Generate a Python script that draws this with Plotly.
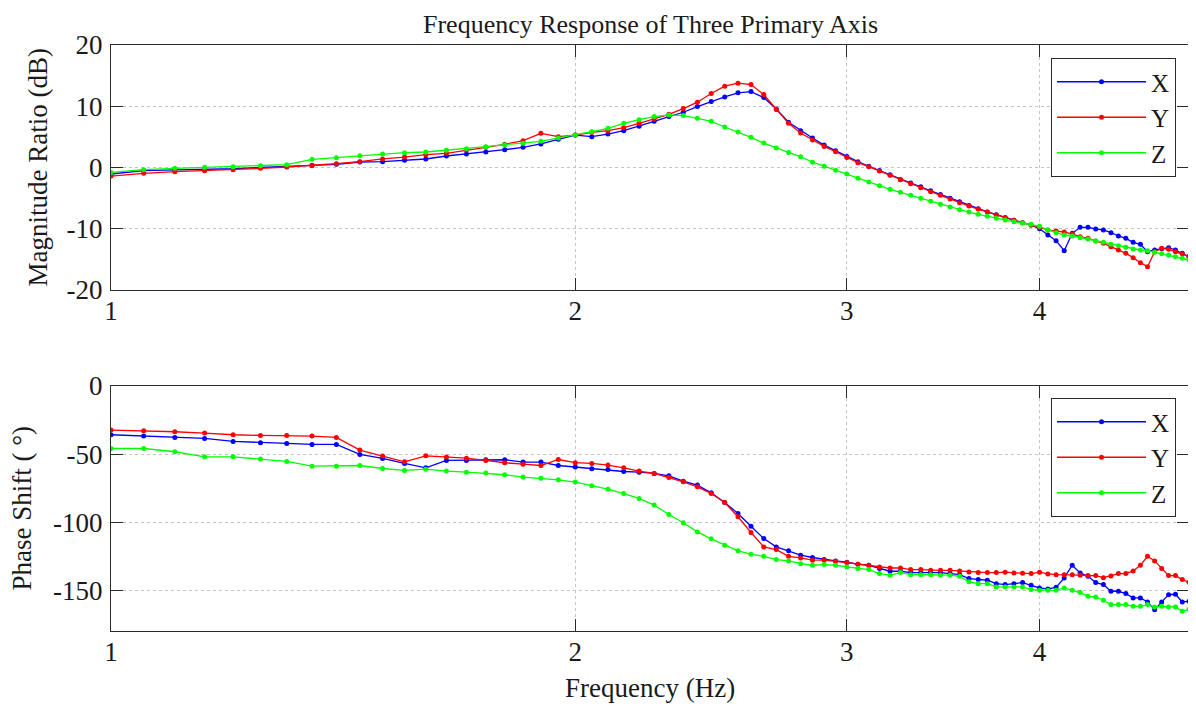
import plotly.graph_objects as go

freq = [1.00, 1.05, 1.10, 1.15, 1.20, 1.25, 1.30, 1.35, 1.40, 1.45,
        1.50, 1.55, 1.60, 1.65, 1.70, 1.75, 1.80, 1.85, 1.90, 1.95,
        2.00, 2.05, 2.10, 2.15, 2.20, 2.25, 2.30, 2.35, 2.40, 2.45,
        2.50, 2.55, 2.60, 2.65, 2.70, 2.75, 2.80, 2.85, 2.90, 2.95,
        3.00, 3.05, 3.10, 3.15, 3.20, 3.25, 3.30, 3.35, 3.40, 3.45,
        3.50, 3.55, 3.60, 3.65, 3.70, 3.75, 3.80, 3.85, 3.90, 3.95,
        4.00, 4.05, 4.10, 4.15, 4.20, 4.25, 4.30, 4.35, 4.40, 4.45,
        4.50, 4.55, 4.60, 4.65, 4.70, 4.75, 4.80, 4.85, 4.90, 4.95,
        5.00]

mag_x = [-1.06, -0.5, -0.4, -0.35, -0.2, 0.0, 0.13, 0.35, 0.52, 0.9,
         0.95, 1.17, 1.39, 1.88, 2.2, 2.53, 2.91, 3.29, 3.84, 4.6,
         5.3, 5.03, 5.46, 6.01, 6.72, 7.54, 8.31, 9.02, 9.95, 10.77,
         11.53, 12.19, 12.40, 11.42, 9.56, 7.38, 6.01, 4.81, 3.66, 2.73,
         1.8, 0.95, 0.2, -0.5, -1.2, -1.95, -2.55, -3.15, -3.8, -4.4,
         -5.0, -5.6, -6.2, -6.75, -7.25, -7.7, -8.15, -8.6, -9.0, -9.4,
         -10.0, -11.02, -11.95, -13.58, -10.75, -9.77, -9.77, -10.04, -10.2, -10.64,
         -11.18, -11.57, -12.22, -12.55, -13.74, -13.47, -13.25, -13.09, -13.47, -14.01,
         -14.56]

mag_y = [-1.4, -0.95, -0.68, -0.52, -0.35, -0.14, 0.08, 0.3, 0.63, 0.95,
         1.4, 1.71, 2.1, 2.31, 2.86, 3.3, 3.78, 4.38, 5.58, 5.03,
         5.3, 5.74, 6.01, 6.5, 7.21, 7.92, 8.69, 9.62, 10.66, 12.08,
         13.28, 13.77, 13.55, 11.91, 9.45, 7.21, 5.63, 4.48, 3.44, 2.57,
         1.64, 0.79, 0.14, -0.57, -1.28, -1.99, -2.64, -3.29, -3.95, -4.54,
         -5.14, -5.74, -6.29, -6.78, -7.27, -7.75, -8.19, -8.63, -9.01, -9.39,
         -9.8, -10.2, -10.37, -10.53, -10.86, -11.29, -11.57, -12.0, -12.38, -12.93,
         -13.47, -14.01, -14.72, -15.54, -16.19, -13.74, -13.2, -13.36, -13.74, -14.12,
         -14.56]

mag_z = [-0.8, -0.35, -0.14, 0.03, 0.13, 0.3, 0.46, 1.33, 1.6, 1.93,
         2.2, 2.42, 2.53, 2.8, 3.07, 3.4, 3.73, 3.95, 4.27, 4.82,
         5.3, 5.85, 6.39, 7.21, 7.81, 8.31, 8.58, 8.47, 8.03, 7.54,
         6.61, 5.79, 4.92, 3.99, 3.17, 2.46, 1.75, 0.87, 0.22, -0.44,
         -1.08, -1.77, -2.37, -2.97, -3.56, -4.05, -4.54, -5.03, -5.52, -6.01,
         -6.45, -6.88, -7.27, -7.65, -7.97, -8.3, -8.57, -8.84, -9.06, -9.28,
         -9.6, -10.2, -10.64, -11.02, -11.18, -11.46, -11.67, -12.0, -12.22, -12.55,
         -12.76, -13.04, -13.31, -13.47, -13.58, -13.85, -14.07, -14.29, -14.56, -14.83,
         -15.1]

phase_x = [-35.8, -36.8, -37.8, -38.5, -40.7, -41.7, -42.2, -42.9, -42.9, -50.3,
           -53.2, -56.9, -60.1, -54.7, -54.7, -54.2, -54.2, -55.9, -55.9, -58.4,
           -59.5, -60.8, -61.3, -62.8, -63.3, -64.2, -66.0, -69.9, -72.8, -78.5,
           -85.6, -93.7, -103.0, -112.1, -118.2, -121.1, -124.3, -126.0, -127.5, -128.5,
           -129.5, -130.9, -131.7, -134.1, -136.1, -136.1, -137.1, -137.1, -137.1, -137.1,
           -137.8, -138.6, -141.5, -142.2, -142.7, -145.2, -145.9, -145.2, -144.4, -146.4,
           -148.4, -149.1, -147.9, -141.0, -131.7, -137.3, -139.8, -144.4, -145.9, -150.8,
           -150.8, -152.5, -155.7, -155.7, -158.7, -164.3, -158.7, -153.3, -153.0, -158.7,
           -158.2]

phase_y = [-32.4, -32.9, -33.6, -34.6, -35.8, -36.3, -36.3, -36.8, -37.8, -47.1,
           -51.5, -55.7, -51.3, -52.2, -53.0, -54.7, -56.4, -57.4, -58.4, -54.0,
           -56.3, -56.9, -58.1, -60.1, -62.5, -64.2, -67.2, -70.4, -74.1, -79.0,
           -85.6, -96.1, -107.6, -118.2, -120.2, -125.1, -126.3, -128.0, -128.0, -128.7,
           -129.7, -130.9, -131.9, -132.9, -133.7, -133.7, -134.9, -134.9, -135.4, -135.4,
           -135.4, -135.9, -136.6, -137.1, -137.1, -137.1, -136.8, -137.3, -137.6, -137.8,
           -136.8, -138.1, -138.6, -138.6, -138.6, -139.0, -139.3, -139.3, -140.8, -139.5,
           -137.8, -137.8, -135.9, -131.7, -125.1, -128.5, -134.1, -139.3, -139.3, -142.2,
           -144.2]

phase_z = [-45.9, -45.9, -48.3, -52.0, -52.0, -53.7, -55.4, -58.9, -58.9, -58.4,
           -60.6, -62.0, -61.1, -62.5, -63.3, -64.0, -65.2, -66.9, -67.7, -68.9,
           -70.6, -73.3, -75.8, -79.0, -82.6, -87.5, -94.4, -100.5, -107.2, -112.3,
           -117.0, -121.1, -123.6, -125.1, -127.5, -128.5, -130.5, -131.7, -131.2, -131.7,
           -132.9, -134.1, -134.9, -137.8, -139.0, -137.1, -138.6, -138.6, -138.6, -139.0,
           -139.0, -139.8, -143.9, -145.2, -145.2, -147.6, -147.6, -147.6, -147.6, -149.6,
           -150.1, -150.1, -150.1, -148.4, -150.1, -151.8, -154.5, -155.0, -157.4, -160.6,
           -160.6, -160.6, -161.9, -161.9, -160.6, -162.3, -161.9, -162.3, -162.3, -165.5,
           -164.1]

series_names = ["X", "Y", "Z"]
series_colors = ["#0000ff", "#ff0000", "#00ff00"]
mag_series = [mag_x, mag_y, mag_z]
phase_series = [phase_x, phase_y, phase_z]

x_tickvals = [1, 2, 3, 4]
x_ticktext = ["1", "2", "3", "4"]
mag_tickvals = [20, 10, 0, -10, -20]
mag_ticktext = ["20", "10", "0", "-10", "-20"]
phase_tickvals = [0, -50, -100, -150]
phase_ticktext = ["0", "-50", "-100", "-150"]

FONT = "Liberation Serif"
FS = 27
TFS = 26
LFS = 25
TXT = "#1a1a1a"
AX = "#2b2b2b"

fig = go.Figure()
for name, col, ys in zip(series_names, series_colors, mag_series):
    fig.add_trace(go.Scatter(x=freq, y=ys, name=name, mode="lines+markers",
                             line=dict(color=col, width=1.3),
                             marker=dict(color=col, size=5),
                             xaxis="x", yaxis="y", legend="legend"))
for name, col, ys in zip(series_names, series_colors, phase_series):
    fig.add_trace(go.Scatter(x=freq, y=ys, name=name, mode="lines+markers",
                             line=dict(color=col, width=1.3),
                             marker=dict(color=col, size=5),
                             xaxis="x2", yaxis="y2", legend="legend2"))

# The page body adds an 8 px offset; the figure is sized so that it fills the
# visible window from that offset.  Page-pixel targets are converted below.
OFF = 8
W, H = 1196 - OFF, 706 - OFF
ml, mt = 111 - OFF, 45 - OFF
mr = W - (1189 - OFF)
mb = H - (631 - OFF)
ph = H - mt - mb
pw = W - ml - mr


def px_y(page_y):
    """page pixel row -> paper y"""
    return 1 - (page_y - OFF - mt) / ph


def px_x(page_x):
    """page pixel column -> paper x"""
    return (page_x - OFF - ml) / pw


top_dom = [px_y(290), 1]
bot_dom = [0, px_y(386)]

common_axis = dict(showline=True, linecolor=AX, linewidth=1, mirror="ticks",
                   ticks="inside", ticklen=12, tickcolor=AX, tickwidth=1,
                   showgrid=True, gridcolor="#c4c4c4", griddash="dot", gridwidth=1,
                   zeroline=False, automargin=False,
                   tickfont=dict(family=FONT, size=FS, color=TXT))

xcommon = dict(common_axis, type="log", range=[0, 0.69897],
               tickmode="array", tickvals=x_tickvals, ticktext=x_ticktext,
               ticklabelstandoff=-3)

legend_common = dict(x=px_x(1176), xanchor="right", yanchor="top",
                     bgcolor="white", bordercolor=AX, borderwidth=1,
                     font=dict(family=FONT, size=LFS, color=TXT), itemwidth=89,
                     tracegroupgap=0)

fig.update_layout(
    template="none",
    width=W, height=H,
    margin=dict(l=ml, r=mr, t=mt, b=mb, autoexpand=False),
    paper_bgcolor="white", plot_bgcolor="white",
    font=dict(family=FONT, size=FS, color=TXT),
    xaxis=dict(xcommon, anchor="y", domain=[0, 1]),
    xaxis2=dict(xcommon, anchor="y2", domain=[0, 1]),
    yaxis=dict(common_axis, anchor="x", domain=top_dom, range=[-20, 20],
               tickmode="array", tickvals=mag_tickvals, ticktext=mag_ticktext,
               ticklabelstandoff=2),
    yaxis2=dict(common_axis, anchor="x2", domain=bot_dom, range=[-180, 0],
                tickmode="array", tickvals=phase_tickvals, ticktext=phase_ticktext,
                ticklabelstandoff=2),
    legend=dict(legend_common, y=px_y(58)),
    legend2=dict(legend_common, y=px_y(398)),
    annotations=[
        dict(text="Frequency Response of Three Primary Axis", xref="paper", yref="paper",
             x=0.5, y=px_y(25), xanchor="center", yanchor="middle",
             showarrow=False, font=dict(family=FONT, size=TFS, color=TXT)),
        dict(text="Magnitude Ratio (dB)", xref="paper", yref="paper",
             x=px_x(37), y=(top_dom[0] + top_dom[1]) / 2,
             xanchor="center", yanchor="middle", textangle=-90,
             showarrow=False, font=dict(family=FONT, size=FS, color=TXT)),
        dict(text="Phase Shift ( °)", xref="paper", yref="paper",
             x=px_x(22), y=(bot_dom[0] + bot_dom[1]) / 2,
             xanchor="center", yanchor="middle", textangle=-90,
             showarrow=False, font=dict(family=FONT, size=FS, color=TXT)),
        dict(text="Frequency (Hz)", xref="paper", yref="paper",
             x=0.5, y=px_y(688), xanchor="center", yanchor="middle",
             showarrow=False, font=dict(family=FONT, size=FS, color=TXT)),
    ],
)

fig.write_html("out.html")
